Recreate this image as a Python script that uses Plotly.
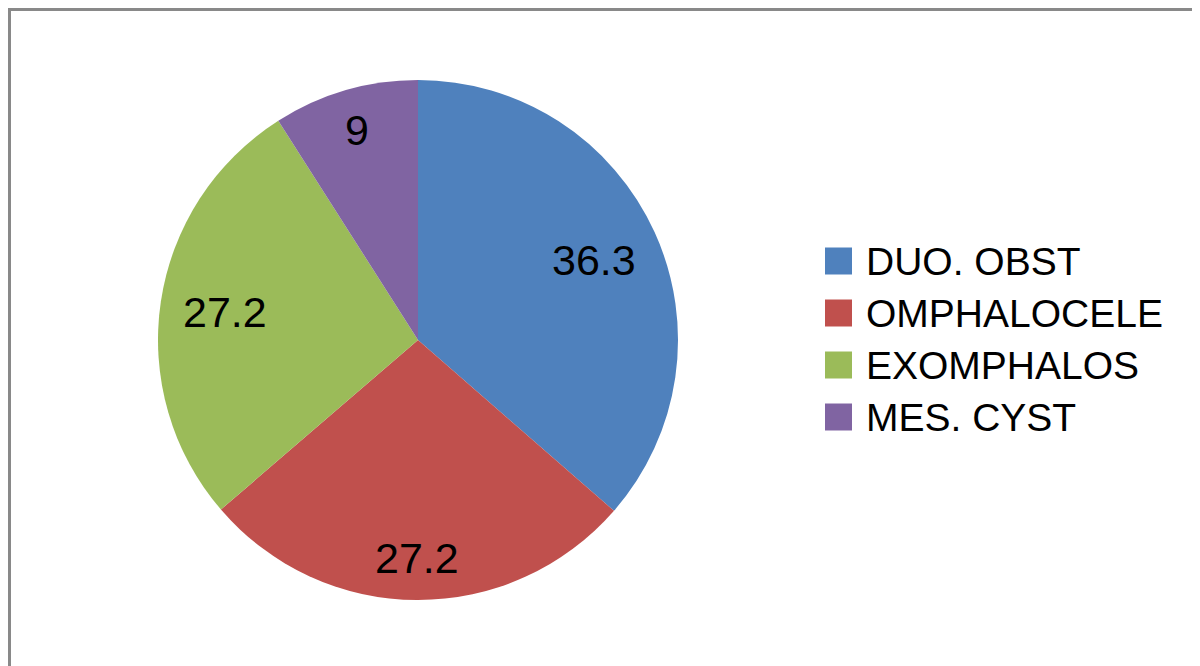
import math
import plotly.graph_objects as go

# Data
categories = ["DUO. OBST", "OMPHALOCELE", "EXOMPHALOS", "MES. CYST"]
values = [36.3, 27.2, 27.2, 9]
label_texts = ["36.3", "27.2", "27.2", "9"]
colors = ["#4F81BD", "#C0504D", "#9BBB59", "#8064A2"]

W, H = 1200, 666
OFF = 8  # page body margin offset
cx, cy, R = 418 - OFF, 340 - OFF, 260  # pie center / radius in px (figure coords)
LABEL_SIZE = 43

fig = go.Figure(go.Pie(
    labels=categories,
    values=values,
    sort=False,
    direction="clockwise",
    rotation=0,
    marker=dict(colors=colors, line=dict(width=0)),
    textinfo="none",
    hoverinfo="label+value",
    showlegend=False,
    domain=dict(x=[(cx - R) / W, (cx + R) / W], y=[1 - (cy + R) / H, 1 - (cy - R) / H]),
))

annotations = []
shapes = []


def text_width(t, size):
    return sum((0.278 if ch == "." else 0.556) for ch in t) * size


# Data labels: place label box inside each slice so its outer corner sits near the rim
total = sum(values)
cum = 0.0
for v, t in zip(values, label_texts):
    mid = (cum + v / 2) / total * 2 * math.pi
    cum += v
    s, c = math.sin(mid), math.cos(mid)
    hw = text_width(t, LABEL_SIZE) / 2
    hh = 17.5
    target = 0.92 * R
    lo, hi = 0.0, R
    for _ in range(50):
        r = (lo + hi) / 2
        dx = r * s + math.copysign(hw, s)
        dy = -r * c - math.copysign(hh, c)
        if math.hypot(dx, dy) > target:
            hi = r
        else:
            lo = r
    px = cx + r * s
    py = cy - r * c
    annotations.append(dict(
        x=px / W, y=1 - py / H, xref="paper", yref="paper",
        text=t, showarrow=False, xanchor="center", yanchor="middle",
        font=dict(family="Liberation Sans, Arial, sans-serif", size=LABEL_SIZE, color="#000000"),
    ))

# Legend built from categories/colors
leg_x, leg_y0, leg_dy, sq = 825 - OFF, 261 - OFF, 52, 27
for i, (name, col) in enumerate(zip(categories, colors)):
    yc = leg_y0 + i * leg_dy
    shapes.append(dict(
        type="rect", xref="paper", yref="paper",
        x0=leg_x / W, x1=(leg_x + sq) / W,
        y0=1 - (yc + sq / 2) / H, y1=1 - (yc - sq / 2) / H,
        fillcolor=col, line=dict(width=0),
    ))
    annotations.append(dict(
        x=(leg_x + sq + 12) / W, y=1 - yc / H, xref="paper", yref="paper",
        text=name, showarrow=False, xanchor="left", yanchor="middle",
        font=dict(family="Liberation Sans, Arial, sans-serif", size=39, color="#000000"),
    ))

# Chart-area border (extends past right/bottom edges)
shapes.append(dict(
    type="rect", xref="paper", yref="paper",
    x0=1.5 / W, x1=1.05, y0=-0.05, y1=1 - 1.5 / H,
    line=dict(color="#898989", width=3), fillcolor="rgba(0,0,0,0)",
))

fig.update_layout(
    width=W, height=H,
    margin=dict(l=0, r=0, t=0, b=0),
    paper_bgcolor="#FFFFFF",
    plot_bgcolor="#FFFFFF",
    showlegend=False,
    annotations=annotations,
    shapes=shapes,
)

fig.write_html("out.html")
